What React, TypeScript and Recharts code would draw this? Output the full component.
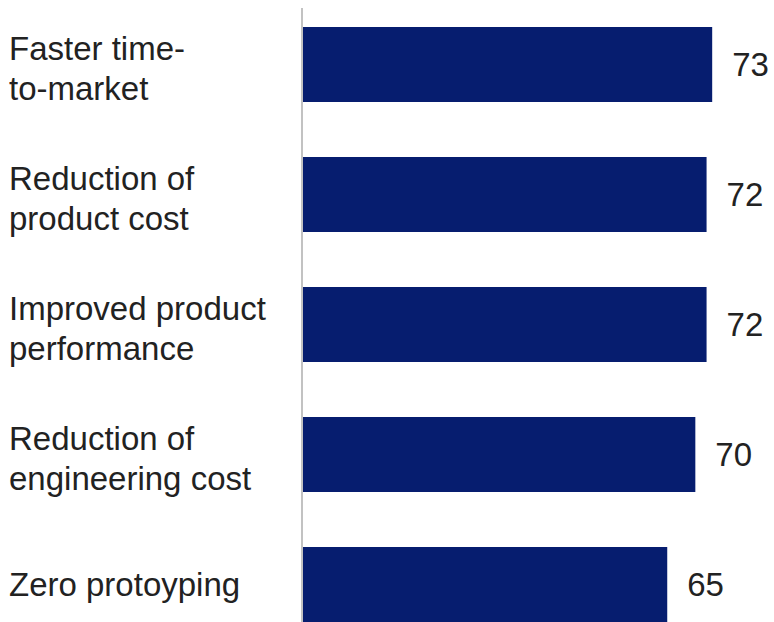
import React from 'react';
import { BarChart, Bar, XAxis, YAxis, LabelList } from 'recharts';

const categories = [
  'Faster time-to-market',
  'Reduction of product cost',
  'Improved product performance',
  'Reduction of engineering cost',
  'Zero protoyping'
];

const labelLines = [
  ['Faster time-', 'to-market'],
  ['Reduction of', 'product cost'],
  ['Improved product', 'performance'],
  ['Reduction of', 'engineering cost'],
  ['Zero protoyping']
];

const values = [73, 72, 72, 70, 65];

const BAR_COLOR = '#061d6f';
const TEXT_COLOR = '#222222';
const FONT = '"Liberation Sans", Arial, sans-serif';

const data = categories.map((name, i) => ({ name, value: values[i] }));

const CategoryTick = (props: any) => {
  const { y, payload } = props;
  const lines = labelLines[payload.index] || [payload.value];
  // two-line labels sit a bit above centre, single-line ones on the cap middle
  const firstBaseline = lines.length > 1 ? -4 : 12;
  return (
    <text x={9} y={y} fill={TEXT_COLOR} fontSize={33} fontFamily={FONT}>
      {lines.map((line: string, i: number) => (
        <tspan key={i} x={9} dy={i === 0 ? firstBaseline : 40}>
          {line}
        </tspan>
      ))}
    </text>
  );
};

export default function App() {
  return (
    <div>
      <style>{'body{margin:0;background:#fff}'}</style>
      <BarChart
        width={774}
        height={649}
        data={data}
        layout="vertical"
        margin={{ top: 8, right: 0, bottom: 0, left: 0 }}
      >
        <XAxis type="number" hide domain={[0, 84]} />
        <YAxis
          type="category"
          dataKey="name"
          width={302}
          padding={{ top: -9, bottom: 0 }}
          axisLine={{ stroke: '#c2c2c2', strokeWidth: 2 }}
          tickLine={false}
          tick={<CategoryTick />}
          interval={0}
        />
        <Bar dataKey="value" fill={BAR_COLOR} barSize={75} isAnimationActive={false}>
          <LabelList
            dataKey="value"
            position="right"
            offset={20}
            fill={TEXT_COLOR}
            fontSize={33}
            fontFamily={FONT}
          />
        </Bar>
      </BarChart>
    </div>
  );
}
